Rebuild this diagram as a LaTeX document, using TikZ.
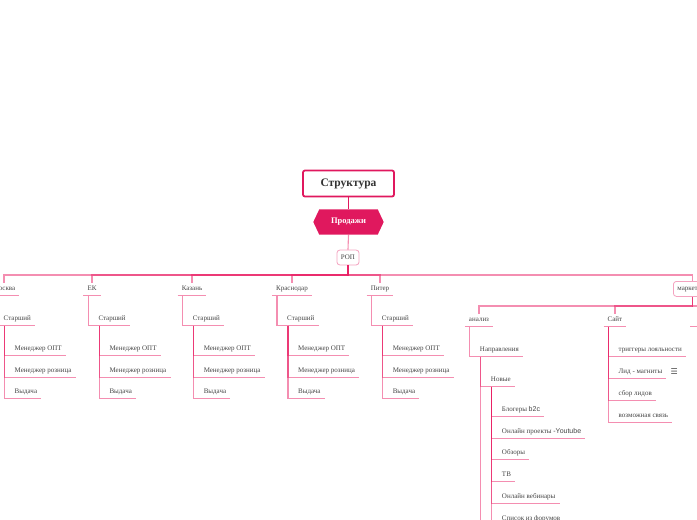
\documentclass[tikz,border=0pt]{standalone}
\usepackage{fontspec}
\setmainfont{Liberation Serif}
\newfontfamily\sansf{Liberation Sans}
\newfontfamily\symf{DejaVu Sans}
\usetikzlibrary{calc,backgrounds}
\definecolor{crim}{HTML}{E0185E}
\definecolor{lnk}{HTML}{E91E63}
\definecolor{pinkb}{HTML}{F4A3C0}
\definecolor{txt}{HTML}{444444}
\tikzset{
  conn/.style={draw=lnk, line width=1.1pt, opacity=0.5},
  lbl/.style={inner xsep=4pt, inner ysep=3pt, text height=5pt, text depth=1.5pt,
    font=\fontsize{7}{8}\selectfont, text=txt},
  kid/.style={lbl, anchor=south west},
  top/.style={lbl, anchor=south},
  rootbox/.style={draw=crim, line width=1.8pt, fill=white, rounded corners=2pt,
    minimum width=91pt, minimum height=26pt, inner sep=0pt,
    font=\bfseries\fontsize{11.5}{12}\selectfont, text=black!80},
  salebox/.style={minimum width=58pt, minimum height=25pt, inner sep=0pt,
    font=\bfseries\fontsize{8.5}{9}\selectfont, text=white},
  pbox/.style={draw=pinkb, line width=0.8pt, rounded corners=3pt, fill=white,
    inner xsep=4pt, minimum height=15pt, text height=5pt, text depth=1.5pt,
    font=\fontsize{7}{8}\selectfont, text=txt},
}
\begin{document}
\begin{tikzpicture}[x=1pt, y=-1pt]
\useasboundingbox (0,0) rectangle (697,520);

% top
\node[rootbox] (root) at (348.5,183.5) {Структура};
\node[salebox] (sale) at (348.5,222) {\raisebox{-0.5pt}{Продажи}};
\begin{scope}[on background layer]
  \fill[crim] (sale.north west) -- (sale.north east) -- ($(sale.east)+(6,0)$)
    -- (sale.south east) -- (sale.south west) -- ($(sale.west)-(6,0)$) -- cycle;
\end{scope}
\node[pbox] (rop) at (348,257.5) {РОП};
\draw[crim, line width=1pt] (root.south) -- (sale.north);
\draw[conn] (sale.south) -- (rop.north);
\coordinate (bus) at (rop.south |- 0,275);

% city columns
\foreach \n/\t/\x in {m/Москва/4, e/ЕК/92, k/Казань/192, kr/Краснодар/292, p/Питер/380}{
  \node[top] (\n) at (\x,295.5) {\t};
  \draw[conn] (rop.south) -- (bus) -| (\n.north);
  \draw[conn] (\n.south west) -- (\n.south east);
  \node[kid] (\n s) at ($(\n.south west)+(11,30)$) {Старший};
  \draw[conn] ([xshift=5pt]\n.south west) |- (\n s.south east);
  \node[kid] (\n a) at ($(\n s.south west)+(11,30)$) {Менеджер ОПТ};
  \node[kid] (\n b) at ($(\n s.south west)+(11,52)$) {Менеджер розница};
  \node[kid] (\n c) at ($(\n s.south west)+(11,73)$) {Выдача};
  \foreach \c in {a,b,c}{
    \draw[conn] ([xshift=5pt]\n s.south west) |- (\n\c.south east);
  }
}

% marketing
\node[pbox, anchor=north west] (mk) at (673,281) {маркетинг};
\draw[conn] (rop.south) -- (bus) -| (mk.north);
\coordinate (mbus) at (mk.south |- 0,306);
\node[top] (an) at (479,326.5) {анализ};
\node[top] (site) at (615,326.5) {Сайт};
\coordinate (x3) at (708,313);
\coordinate (u3a) at (690,326.5);
\coordinate (u3b) at (740,326.5);
\draw[conn] (mk.south) -- (mbus) -| (an.north);
\draw[conn] (mk.south) -- (mbus) -| (site.north);
\draw[conn] (mk.south) -- (mbus) -| (x3);
\draw[conn] (an.south west) -- (an.south east);
\draw[conn] (site.south west) -- (site.south east);
\draw[conn] (u3a) -- (u3b);

% analysis branch
\node[kid] (nap) at ($(an.south west)+(11,30)$) {Направления};
\draw[conn] ([xshift=5pt]an.south west) |- (nap.south east);
\node[kid] (new) at ($(nap.south west)+(11,30)$) {Новые};
\draw[conn] ([xshift=5pt]nap.south west) |- (new.south east);
\coordinate (napend) at ($(nap.south west)+(5,200)$);
\draw[conn] ([xshift=5pt]nap.south west) -- (napend);
\node[kid] (n1) at ($(new.south west)+(11,30)$) {Блогеры {\sansf b2c}};
\node[kid] (n2) at ($(new.south west)+(11,52)$) {Онлайн проекты {\sansf -Youtube}};
\node[kid] (n3) at ($(new.south west)+(11,73)$) {Обзоры};
\node[kid] (n4) at ($(new.south west)+(11,95)$) {ТВ};
\node[kid] (n5) at ($(new.south west)+(11,117)$) {Онлайн вебинары};
\node[kid] (n6) at ($(new.south west)+(11,139)$) {Список из форумов};
\foreach \c in {1,...,6}{
  \draw[conn] ([xshift=5pt]new.south west) |- (n\c.south east);
}

% site branch
\node[kid] (s1) at ($(site.south west)+(11,30)$) {триггеры лояльности};
\node[kid] (s2) at ($(site.south west)+(11,52)$) {Лид - магниты};
\node[kid] (s3) at ($(site.south west)+(11,74)$) {сбор лидов};
\node[kid] (s4) at ($(site.south west)+(11,96)$) {возможная связь};
\foreach \c in {1,...,4}{
  \draw[conn] ([xshift=5pt]site.south west) |- (s\c.south east);
}
\node[anchor=west, inner sep=0pt, font=\symf\fontsize{8}{8}\selectfont, text=black!70] (ic) at ([xshift=4pt]s2.east) {☰};
\end{tikzpicture}
\end{document}
